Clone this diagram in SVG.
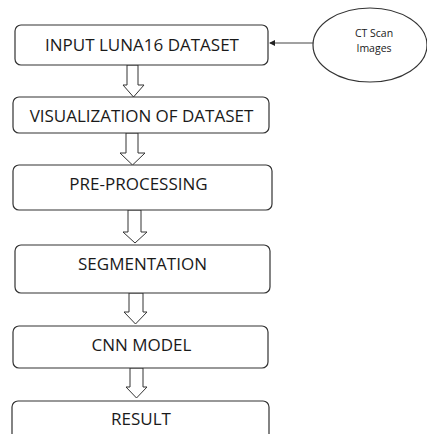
<svg xmlns="http://www.w3.org/2000/svg" width="427" height="434" viewBox="0 0 427 434">
<style>
.box{fill:#fff;stroke:#333;stroke-width:1.2}
.lbl{font-family:"Open Sans","Noto Sans",sans-serif;font-size:17px;fill:#1a1a1a;text-anchor:middle;dominant-baseline:central}
.sm{font-family:"Open Sans","Noto Sans",sans-serif;font-size:10.5px;fill:#1a1a1a;text-anchor:middle}
.blk{fill:#fff;stroke:#333;stroke-width:1}
.ln{stroke:#444;stroke-width:1;fill:none}
</style>
<defs>
<marker id="ah" markerWidth="6" markerHeight="6" refX="5" refY="3" orient="auto" markerUnits="userSpaceOnUse">
<path d="M0,0 L6,3 L0,6 Z" fill="#222"/>
</marker>
</defs>
<g id="connectors">
<line class="ln" x1="313" y1="43" x2="270" y2="43" marker-end="url(#ah)"/>
<path class="blk" d="M127,65 V85 H123 L133.5,97 L144,85 H138 V65 Z"/>
<path class="blk" d="M126,133 V153 H120 L132.5,165 L145,153 H138 V133 Z"/>
<path class="blk" d="M128,210 V232 H123 L135,243 L147,232 H141 V210 Z"/>
<path class="blk" d="M129,293 V312 H124 L135.5,324 L147,312 H143 V293 Z"/>
<path class="blk" d="M130,368 V387 H126 L136.5,398 L147,387 H143 V368 Z"/>
</g>
<g id="ct">
<ellipse cx="370" cy="45" rx="57" ry="37" class="box"/>
<text class="sm" x="374" y="37">CT Scan</text>
<text class="sm" x="374" y="52">Images</text>
</g>
<g id="n1"><rect class="box" x="15" y="25" width="253" height="40" rx="6"/><text class="lbl" x="142" y="44.5">INPUT LUNA16 DATASET</text></g>
<g id="n2"><rect class="box" x="13" y="97" width="256" height="36" rx="6"/><text class="lbl" x="141.5" y="115">VISUALIZATION OF DATASET</text></g>
<g id="n3"><rect class="box" x="13" y="165" width="259" height="45" rx="6"/><text class="lbl" x="138.5" y="183">PRE-PROCESSING</text></g>
<g id="n4"><rect class="box" x="15" y="245" width="255" height="48" rx="6"/><text class="lbl" x="142.5" y="263">SEGMENTATION</text></g>
<g id="n5"><rect class="box" x="13" y="326" width="255" height="42" rx="6"/><text class="lbl" x="141.5" y="344">CNN MODEL</text></g>
<g id="n6"><rect class="box" x="12" y="401" width="257" height="45" rx="6"/><text class="lbl" x="141" y="418">RESULT</text></g>
</svg>
